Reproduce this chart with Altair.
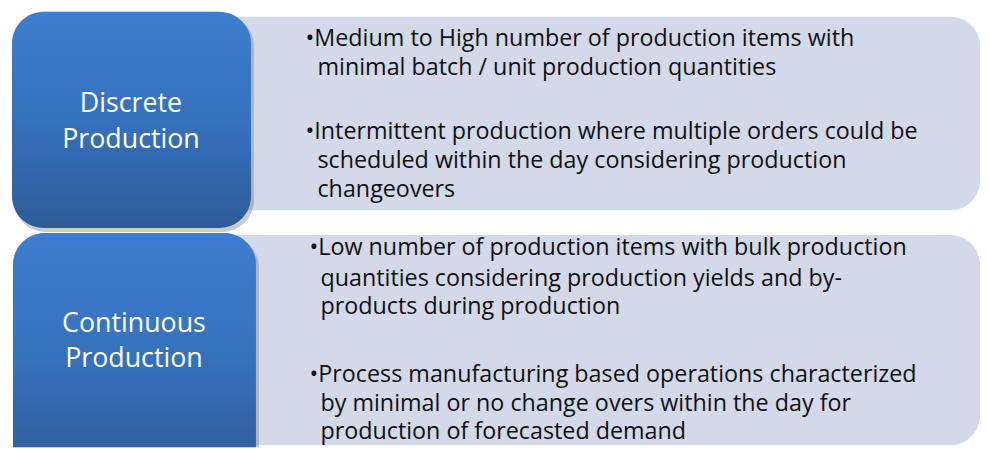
import altair as alt
import pandas as pd

# ---- content -------------------------------------------------------------
categories = ["Discrete\nProduction", "Continuous\nProduction"]

discrete_bullets = [
    ["Medium to High number of production items with",
     "minimal batch / unit production quantities"],
    ["Intermittent production where multiple orders could be",
     "scheduled within the day considering production",
     "changeovers"],
]
continuous_bullets = [
    ["Low number of production items with bulk production",
     "quantities considering production yields and by-",
     "products during production"],
    ["Process manufacturing based operations characterized",
     "by minimal or no change overs within the day for",
     "production of forecasted demand"],
]
bullets = [discrete_bullets, continuous_bullets]

# ---- layout (page pixel coordinates) --------------------------------------
blue_boxes = [(12, 253, 10, 228), (13, 258, 233, 480)]
gray_panels = [(200, 988, 15, 210), (200, 988, 235, 447)]
label_base = [(132, 111, 147), (135, 333, 368)]   # centre x, baselines
bullet_x = [308, 312]
text_x = [320, 323]
line_y = [[[37, 67], [131, 160, 190]],
          [[248, 279, 308], [376, 405, 434]]]

W, H = 980, 441
xs = alt.Scale(domain=[8, 8 + W], range=[0, W], nice=False, zero=False)
ys = alt.Scale(domain=[8, 8 + H], range=[0, H], nice=False, zero=False)

rect_rows, shadow_rows, gray_rows = [], [], []
for (x0, x1, y0, y1) in blue_boxes:
    rect_rows.append(dict(x0=x0, x1=x1, y0=y0, y1=y1))
    shadow_rows.append(dict(x0=x0 + 2, x1=x1 + 3, y0=y0 + 3, y1=y1 + 4))
for (x0, x1, y0, y1) in gray_panels:
    gray_rows.append(dict(x0=x0, x1=x1, y0=y0, y1=y1))

label_rows = []
for cat, (cx, ya, yb) in zip(categories, label_base):
    a, b = cat.split("\n")
    label_rows.append(dict(x=cx, y=ya, t=a))
    label_rows.append(dict(x=cx, y=yb, t=b))

text_rows = []
for p, group in enumerate(bullets):
    for b, lines in enumerate(group):
        for l, line in enumerate(lines):
            yy = line_y[p][b][l]
            if l == 0:
                text_rows.append(dict(x=bullet_x[p], y=yy, t="•" + line))
            else:
                text_rows.append(dict(x=text_x[p], y=yy, t=line))


def rect_enc(ch):
    return ch.encode(
        x=alt.X("x0:Q", scale=xs, axis=None),
        x2="x1:Q",
        y=alt.Y("y0:Q", scale=ys, axis=None),
        y2="y1:Q",
    )


gray = rect_enc(alt.Chart(pd.DataFrame(gray_rows)).mark_rect(
    color="#D3D9E8", cornerRadiusTopRight=30, cornerRadiusBottomRight=30,
    clip=True))

shadow = rect_enc(alt.Chart(pd.DataFrame(shadow_rows)).mark_rect(
    color="#6E6E6E", opacity=0.35, cornerRadius=32, clip=True))

blue = rect_enc(alt.Chart(pd.DataFrame(rect_rows)).mark_rect(
    cornerRadius=32, clip=True,
    color=alt.Gradient(
        gradient="linear", x1=0, x2=0, y1=0, y2=1,
        stops=[alt.GradientStop(color="#3C7ED0", offset=0),
               alt.GradientStop(color="#3671BD", offset=0.5),
               alt.GradientStop(color="#2E5C99", offset=1)])))

labels = alt.Chart(pd.DataFrame(label_rows)).mark_text(
    font="Open Sans", fontSize=27, color="white", align="center",
    baseline="alphabetic").encode(
    x=alt.X("x:Q", scale=xs, axis=None),
    y=alt.Y("y:Q", scale=ys, axis=None),
    text="t:N")

body = alt.Chart(pd.DataFrame(text_rows)).mark_text(
    font="Open Sans", fontSize=23.5, color="#111111", align="left",
    baseline="middle").encode(
    x=alt.X("x:Q", scale=xs, axis=None),
    y=alt.Y("y:Q", scale=ys, axis=None),
    text="t:N")

chart = alt.layer(gray, shadow, blue, labels, body).properties(
    width=W, height=H, padding=0, autosize="none", background="white"
).configure_view(stroke=None)

chart.save("out.html", embed_options={"renderer": "svg", "actions": False})
